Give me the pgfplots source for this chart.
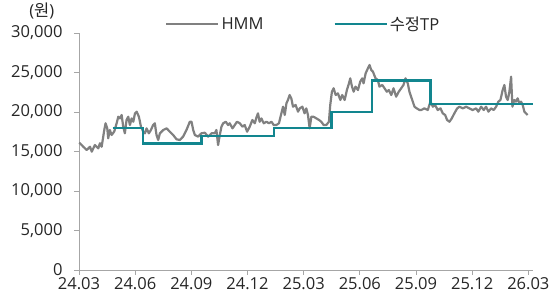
\documentclass[border=0pt]{standalone}
\usepackage{fontspec}
\usepackage{pgfplots}
\pgfplotsset{compat=1.18}
\setmainfont{Open Sans}
\newfontfamily\kr{Noto Sans CJK KR}
\definecolor{tpc}{RGB}{18,134,143}
\definecolor{hmmc}{RGB}{128,128,128}
\definecolor{axc}{RGB}{166,166,166}
\definecolor{txt}{RGB}{38,38,38}
\begin{document}
\begin{tikzpicture}
\path[use as bounding box] (-79pt,-32pt) rectangle (473pt,270pt);
\begin{axis}[
  scale only axis, width=454pt, height=237pt,
  xmin=0, xmax=24.25, ymin=0, ymax=30000,
  axis lines=left,
  axis line style={axc, line width=0.8pt, -},
  xtick={0,3,...,24},
  xticklabels={24.03,24.06,24.09,24.12,25.03,25.06,25.09,25.12,26.03},
  ytick={0,5000,...,30000},
  tick style={axc, line width=0.8pt},
  tick align=outside, major tick length=5pt,
  tick label style={font=\fontsize{16.5}{16.5}\selectfont, text=txt},
  yticklabel style={xshift=-8pt},
  xticklabel style={yshift=1pt},
  /pgf/number format/assume math mode=true,
  /pgf/number format/1000 sep={,},
  scaled y ticks=false,
  legend columns=2,
  legend style={draw=none, fill=none, at={(0.494,1.038)}, anchor=center,
    font=\fontsize{16.5}{16.5}\selectfont, text=txt,
    /tikz/every even column/.append style={column sep=68pt}},
  legend image code/.code={\draw[#1] (0pt,0pt) -- (52pt,0pt);},
  clip=false,
]
\addplot[hmmc, line width=2.2pt, line join=round] coordinates {
(0.00,16100) (0.05,16040) (0.23,15600) (0.41,15190) (0.59,15600) (0.68,14980) (0.85,15820)
(1.03,15400) (1.12,16040) (1.21,15600) (1.35,17720) (1.42,18570) (1.51,17930) (1.56,16670)
(1.65,17720) (1.74,17090) (1.88,17510) (2.01,18570) (2.10,19400) (2.19,19190) (2.28,19620)
(2.36,18140) (2.45,17300) (2.54,18990) (2.63,19400) (2.72,18350) (2.81,19190) (2.90,18770)
(2.99,19830) (3.08,20040) (3.20,19400) (3.31,18140) (3.43,17510) (3.52,17300) (3.61,17930)
(3.73,17300) (3.84,17720) (3.96,18350) (4.05,18570) (4.14,17090) (4.23,16460) (4.32,17300)
(4.50,17720) (4.68,17930) (4.85,17510) (5.03,17090) (5.21,16540) (5.39,16460) (5.56,16880)
(5.74,17720) (5.92,18770) (6.01,18770) (6.10,17720) (6.19,17090) (6.36,16880) (6.54,17300)
(6.72,17380) (6.90,16880) (7.08,17300) (7.25,17300) (7.34,17720) (7.43,15820) (7.52,17090)
(7.61,18140) (7.70,18570) (7.84,18770) (7.96,18350) (8.05,18570) (8.20,17930) (8.32,18350)
(8.44,18770) (8.59,18570) (8.73,18140) (8.85,18350) (8.98,17510) (9.12,18140) (9.26,18990)
(9.39,18570) (9.48,19320) (9.56,19830) (9.65,18770) (9.74,19190) (9.87,18570) (10.01,18770)
(10.15,18570) (10.28,18770) (10.40,18350) (10.54,18350) (10.68,18570) (10.81,19830) (10.90,20670)
(10.99,19620) (11.08,21100) (11.16,21520) (11.25,22150) (11.34,21730) (11.43,20670) (11.57,20890)
(11.70,20040) (11.79,20460) (11.93,20670) (12.05,19830) (12.14,20460) (12.23,19620) (12.32,17930)
(12.41,19400) (12.53,19400) (12.68,19190) (12.82,18990) (12.94,18770) (13.07,18350) (13.21,18350)
(13.35,18770) (13.42,20890) (13.51,22570) (13.60,23000) (13.71,22150) (13.83,22360) (13.96,21520)
(14.06,22150) (14.19,21520) (14.31,22780) (14.42,23630) (14.49,24260) (14.58,23210) (14.67,22570)
(14.77,23210) (14.90,22780) (15.02,23840) (15.13,24260) (15.20,23630) (15.31,24890) (15.43,25520)
(15.52,25950) (15.61,25320) (15.70,25100) (15.84,24260) (15.96,24050) (16.05,23210) (16.20,23420)
(16.32,23000) (16.44,22570) (16.55,22780) (16.68,22150) (16.80,23000) (16.94,21940) (17.08,22570)
(17.21,23000) (17.33,23420) (17.44,24260) (17.56,23630) (17.65,22570) (17.80,21520) (17.92,20670)
(18.04,20460) (18.19,20250) (18.28,20250) (18.45,20460) (18.63,20250) (18.77,21310) (18.90,20670)
(19.02,20890) (19.16,20250) (19.31,20460) (19.43,19830) (19.56,19620) (19.66,18990) (19.79,18770)
(19.91,19190) (20.05,19830) (20.20,20460) (20.32,20670) (20.50,20460) (20.68,20670) (20.85,20460)
(21.03,20250) (21.21,20460) (21.33,20040) (21.48,20670) (21.62,20250) (21.74,20670) (21.87,20040)
(22.01,20460) (22.15,20250) (22.28,20670) (22.40,21310) (22.51,21520) (22.63,22780) (22.72,23420)
(22.81,21940) (22.90,21520) (22.99,22570) (23.08,24470) (23.15,20670) (23.25,21520) (23.34,21310)
(23.43,21730) (23.52,21100) (23.61,21310) (23.70,20890) (23.79,20040) (23.96,19620)
};
\addlegendentry{HMM}
\addplot[tpc, line width=2.3pt] coordinates {
(1.80,18000) (3.40,18000) (3.40,16000) (6.54,16000) (6.54,17000) (10.40,17000)
(10.40,18000) (13.48,18000) (13.48,20000) (15.66,20000) (15.66,24000) (18.77,24000)
(18.77,21000) (24.25,21000)
};
\addlegendentry{{\kr 수정}TP}
\node[font=\fontsize{16.5}{16.5}\selectfont, text=txt, inner sep=0pt, anchor=west] at (rel axis cs:-0.11,1.091) {({\kr 원})};
\end{axis}
\end{tikzpicture}
\end{document}
